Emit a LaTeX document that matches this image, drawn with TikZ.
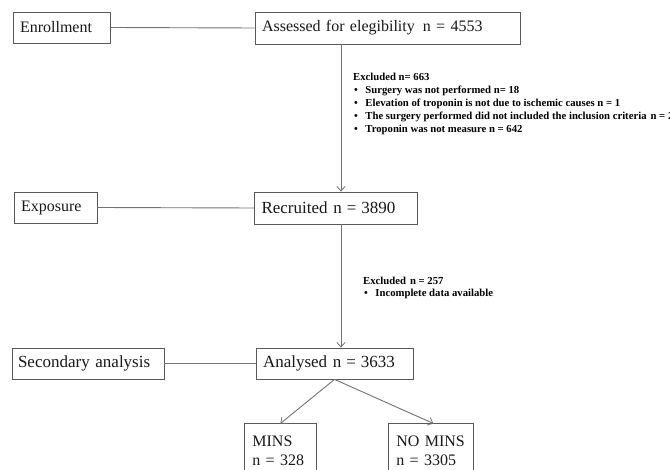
\documentclass[tikz,border=0pt]{standalone}
\usepackage{fontspec}
\setmainfont{Liberation Serif}
\usepackage{tikz}
\usetikzlibrary{positioning,arrows.meta}

\begin{document}
\begin{tikzpicture}[x=1pt,y=-1pt,
    box/.style={draw=black!65,line width=0.8pt,inner xsep=7pt,inner ysep=0pt,
        align=left,font=\fontsize{16}{19}\selectfont,text=black!90},
    big/.style={font=\fontsize{17}{20}\selectfont},
    link/.style={draw=black!55,line width=0.9pt},
    arr/.style={link,-{Straight Barb[length=4.5pt,width=8pt,line width=0.8pt]}},
    note/.style={inner sep=0pt,align=left,anchor=north west,
        font=\bfseries\fontsize{10.7}{13}\selectfont}
    ]
    \useasboundingbox (0,0) rectangle (670,470);
    \fill[white] (0,0) rectangle (670,470);

    % left column
    \node[box,text width=83pt,minimum height=31pt] (enroll) at (61.5,27.5) {Enrollment};
    \node[box,text width=69pt,minimum height=31pt] (expo) at (55.5,207.5) {Exposure};
    \node[box,big,text width=140pt,minimum height=31pt,inner xsep=6pt] (second) at (88,363.5) {Secondary analysis};

    % main column
    \node[box,text width=251pt,minimum height=32pt] (assess) at (387.5,28) {Assessed for elegibility\hspace{8pt}n = 4553};
    \node[box,big,text width=149pt,minimum height=32pt] (recruit) at (336,208) {Recruited n\hspace{5pt}=\hspace{5pt}3890};
    \node[box,big,text width=143pt,minimum height=31pt] (analys) at (334.5,363.5) {Analysed n\hspace{5pt}=\hspace{5pt}3633};
    \coordinate (spine) at (341,0);

    % outcome boxes (cut by the page)
    \node[box,text width=56pt,anchor=north west,inner xsep=8pt] (mins) at (244,423.5)
        {\begin{tabular}{@{}l@{}}\rule{0pt}{22.5pt}MINS\\ \rule[-20pt]{0pt}{17.3pt}n = 328\end{tabular}};
    \node[box,text width=69pt,anchor=north west,inner xsep=8pt] (nomins) at (388,423.5)
        {\begin{tabular}{@{}l@{}}\rule{0pt}{22.5pt}NO MINS\\ \rule[-20pt]{0pt}{17.3pt}n = 3305\end{tabular}};

    % exclusions
    \node[note] (excl1) at (353,72.5) {Excluded n= 663\\
        \hspace*{1pt}\textbullet\hspace{7.5pt}Surgery was not performed n= 18\\
        \hspace*{1pt}\textbullet\hspace{7.5pt}Elevation of troponin is not due to ischemic causes n = 1\\
        \hspace*{1pt}\textbullet\hspace{7.5pt}The surgery performed did not included the inclusion criteria\hspace{4pt}n = 2\\
        \hspace*{1pt}\textbullet\hspace{7.5pt}Troponin was not measure n = 642};
    \node[note,font=\bfseries\fontsize{10.7}{11.5}\selectfont] (excl2) at (363,277) {Excluded\hspace{4pt}n = 257\\
        \hspace*{1pt}\textbullet\hspace{7.5pt}Incomplete data available};

    % connectors
    \draw[link] (enroll.east) -- (assess.west);
    \draw[link] (expo.east) -- (recruit.west);
    \draw[link] (second.east) -- (analys.west);
    \draw[arr] (assess.south -| spine) -- (recruit.north -| spine);
    \draw[arr] (recruit.south -| spine) -- (analys.north -| spine);
    \draw[arr] (analys.south) -- (mins.north);
    \draw[arr] (analys.south) -- ([xshift=2.5pt]nomins.north);
\end{tikzpicture}
\end{document}
